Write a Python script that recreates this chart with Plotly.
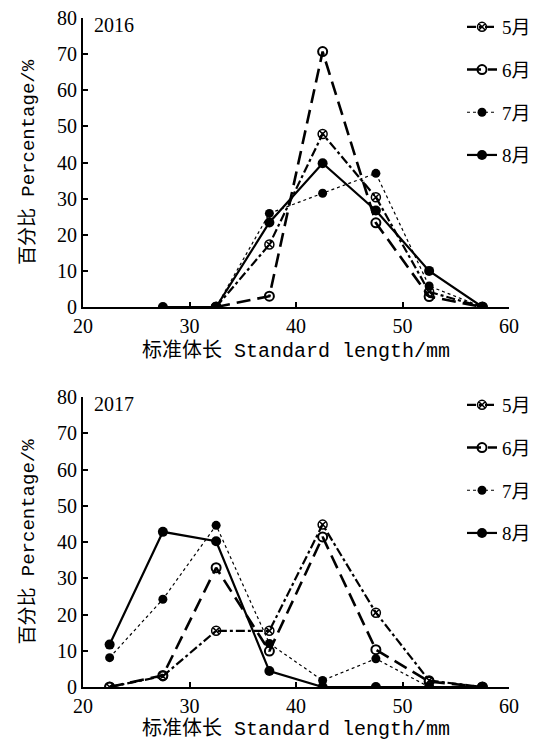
import plotly.graph_objects as go

x2016 = [27.5, 32.5, 37.5, 42.5, 47.5, 52.5, 57.5]
x2017 = [22.5, 27.5, 32.5, 37.5, 42.5, 47.5, 52.5, 57.5]

months = ["5月", "6月", "7月", "8月"]

y2016 = {
    "5月": [None, 0, 17.3, 47.9, 30.4, 4.2, 0],
    "6月": [None, 0, 3.0, 70.7, 23.3, 2.9, 0],
    "7月": [None, 0, 25.9, 31.5, 37.0, 5.8, 0],
    "8月": [0, 0, 23.4, 39.8, 26.7, 10.0, 0],
}
y2017 = {
    "5月": [0, 3.0, 15.5, 15.5, 44.8, 20.5, 1.8, 0],
    "6月": [0, 3.2, 32.9, 9.9, 41.4, 10.3, 1.5, 0],
    "7月": [8.1, 24.2, 44.6, 12.0, 1.8, 7.8, 0, 0],
    "8月": [11.7, 42.8, 40.2, 4.4, 0, 0, 0, 0],
}

years = ["2016", "2017"]
x_ticks = [20, 30, 40, 50, 60]
y_ticks = [0, 10, 20, 30, 40, 50, 60, 70, 80]

styles = {
    "5月": dict(line=dict(color="black", width=2.2, dash="dashdot"),
               marker=dict(symbol="circle-x-open", size=9, color="black", line=dict(width=1.5))),
    "6月": dict(line=dict(color="black", width=2.6, dash="14px,7px"),
               marker=dict(symbol="circle-open", size=9, color="black", line=dict(width=2))),
    "7月": dict(line=dict(color="black", width=1.2, dash="dot"),
               marker=dict(symbol="circle", size=9, color="black")),
    "8月": dict(line=dict(color="black", width=2.2),
               marker=dict(symbol="circle", size=10, color="black")),
}

# page body has an 8px margin; figure is sized to fit the remaining window
OFF = 8
W, H = 538 - OFF, 741 - OFF


def xp(px):
    return (px - OFF) / W


def yp(py):
    return 1 - (py - OFF) / H


fig = go.Figure()

for yi, (xs, data, leg) in enumerate([(x2016, y2016, "legend"), (x2017, y2017, "legend2")]):
    xa = "x" if yi == 0 else "x2"
    ya = "y" if yi == 0 else "y2"
    for m in months:
        fig.add_trace(go.Scatter(
            x=xs, y=data[m], name=m, mode="lines+markers",
            xaxis=xa, yaxis=ya, legend=leg, legendgroup=f"{m}{yi}",
            connectgaps=False, **styles[m]))

num_font = dict(family="Liberation Serif, Noto Sans CJK SC", size=20, color="black")
leg_font = dict(family="Liberation Serif, Noto Sans CJK SC", size=19, color="black")
xtitle_font = dict(family="Liberation Mono, Noto Sans CJK SC", size=20, color="black")
ytitle_font = dict(family="Liberation Mono, Noto Sans CJK SC", size=19, color="black")

xdom = [xp(83), xp(509)]
ydoms = [[yp(307), yp(18)], [yp(687), yp(397)]]

axis_common = dict(showline=True, linecolor="black", linewidth=2, ticks="inside",
                   ticklen=5, tickwidth=2, tickcolor="black", showgrid=False,
                   zeroline=False, tickfont=num_font, mirror=False, automargin=False,
                   ticklabeloverflow="allow")

for i in range(2):
    sfx = "" if i == 0 else "2"
    fig.update_layout(**{
        f"xaxis{sfx}": dict(domain=xdom, range=[20, 60], tickvals=x_ticks,
                            anchor=f"y{sfx}",
                            title=dict(text="标准体长 Standard length/mm", font=xtitle_font, standoff=7),
                            **axis_common),
        f"yaxis{sfx}": dict(domain=ydoms[i], range=[0, 80], tickvals=y_ticks,
                            anchor=f"x{sfx}",
                            title=dict(text="百分比 Percentage/%", font=ytitle_font, standoff=17),
                            **axis_common),
    })
    fig.add_annotation(text=years[i], xref="paper", yref="paper",
                       x=xp(92), y=ydoms[i][1] - 7 / H, xanchor="left", yanchor="middle",
                       showarrow=False, font=num_font)

legend_common = dict(xanchor="right", yanchor="top", bgcolor="rgba(0,0,0,0)",
                     font=leg_font, tracegroupgap=15, itemwidth=30)
fig.update_layout(
    width=W, height=H, margin=dict(l=0, r=0, t=0, b=0),
    plot_bgcolor="white", paper_bgcolor="white", showlegend=True,
    legend=dict(x=xp(536), y=yp(8), **legend_common),
    legend2=dict(x=xp(536), y=yp(386), **legend_common),
)

fig.write_html("out.html")
